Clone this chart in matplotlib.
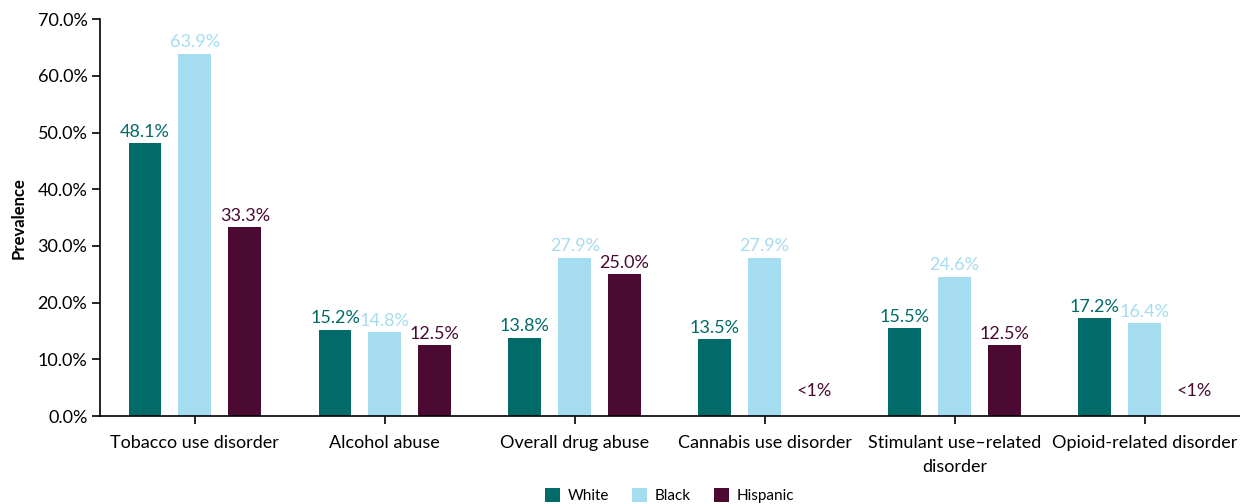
import numpy as np
import matplotlib
matplotlib.use("Agg")
import matplotlib.pyplot as plt

# данные
categories = ["Tobacco use disorder", "Alcohol abuse", "Overall drug abuse",
              "Cannabis use disorder", "Stimulant use\u2013related\ndisorder",
              "Opioid-related disorder"]
groups = ["White", "Black", "Hispanic"]
white = [48.1, 15.2, 13.8, 13.5, 15.5, 17.2]
black = [63.9, 14.8, 27.9, 27.9, 24.6, 16.4]
hispanic = [33.3, 12.5, 25.0, None, 12.5, None]  # None = "<1%"
yticks = [0, 10, 20, 30, 40, 50, 60, 70]

colors = ["#006B68", "#A5DCF0", "#4A0A32"]

plt.rcParams['font.family'] = ['Lato', 'DejaVu Sans']

fig = plt.figure(figsize=(12.4, 5.04), dpi=100)
ax = fig.add_axes([0.0806, 0.1746, 0.919, 0.7874])

x = np.arange(len(categories))
offset = 0.2625
width = 0.173

for i, (vals, col, name) in enumerate(zip([white, black, hispanic], colors, groups)):
    pos = x + (i - 1) * offset
    heights = [v if v is not None else 0 for v in vals]
    ax.bar(pos, heights, width, color=col, label=name)
    for p, v in zip(pos, vals):
        if v is None:
            ax.text(p, 3.0, "<1%", ha='center', va='bottom', color=col, fontsize=13)
        else:
            ax.text(p, v + 0.6, f"{v:.1f}%", ha='center', va='bottom', color=col, fontsize=13)

ax.set_xlim(-0.5, 5.5)
ax.set_ylim(0, 70)
ax.set_yticks(yticks)
ax.set_yticklabels([f"{t:.1f}%" for t in yticks], fontsize=13)
ax.set_xticks(x)
ax.set_xticklabels(categories, fontsize=13, linespacing=1.6)
ax.tick_params(axis='x', length=6, width=1.2, pad=8)
ax.tick_params(axis='y', length=6, width=1.2, pad=3)
ax.set_ylabel("Prevalence", fontsize=12, fontweight='bold', labelpad=8)

for s in ['top', 'right']:
    ax.spines[s].set_visible(False)
ax.spines['left'].set_linewidth(1.2)
ax.spines['bottom'].set_linewidth(1.2)

ax.legend(loc='center', bbox_to_anchor=(0.5, -0.2), ncol=3, frameon=False,
          fontsize=11, handlelength=1.0, handleheight=1.0, handletextpad=0.5,
          columnspacing=1.5, bbox_transform=ax.transAxes)

fig.savefig("out.png", dpi=100)
